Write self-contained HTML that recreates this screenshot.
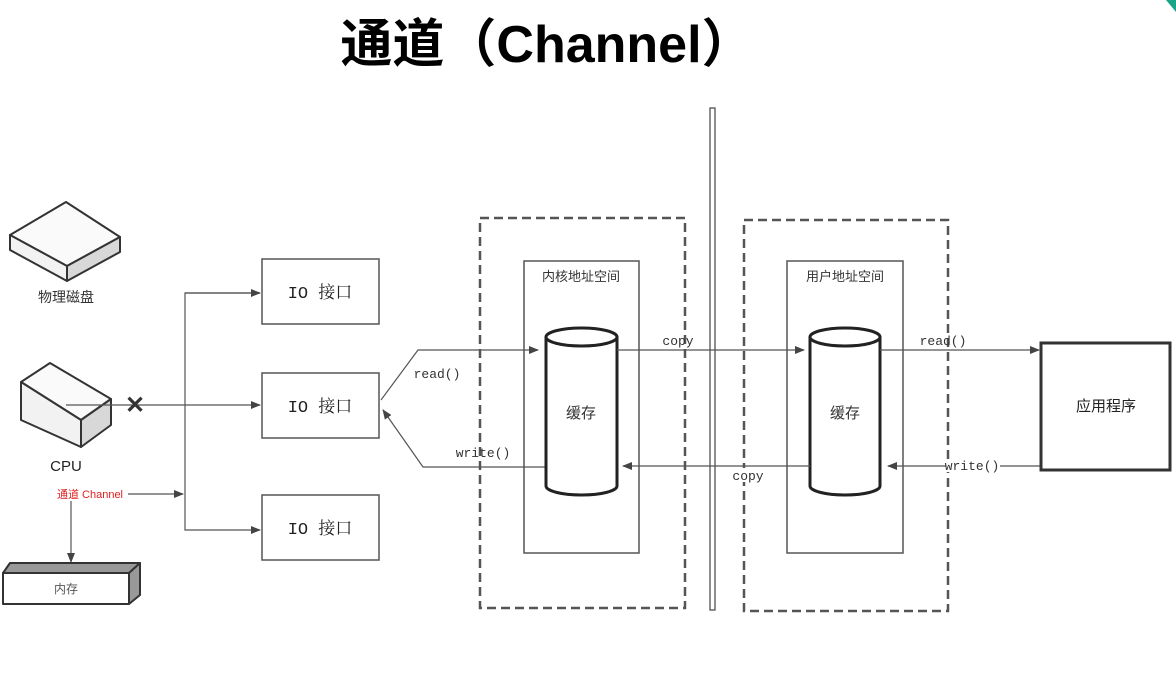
<!DOCTYPE html>
<html><head><meta charset="utf-8"><style>
html,body{margin:0;padding:0;background:#fff;}
svg{display:block;}
text{font-family:"Liberation Sans","Noto Sans CJK SC",sans-serif;}
.m{font-family:"Liberation Mono","Noto Serif CJK SC",monospace;}
</style></head><body>
<svg width="1176" height="687" viewBox="0 0 1176 687" xmlns="http://www.w3.org/2000/svg">
<defs>
<marker id="a" markerWidth="10" markerHeight="8" refX="9" refY="4" orient="auto" markerUnits="userSpaceOnUse">
<path d="M0,0 L10,4 L0,8 z" fill="#444"/></marker>
</defs>
<polygon points="1166,0 1176,0 1176,12" fill="#1aa58a"/>
<text x="547" y="62" font-size="52" font-weight="bold" text-anchor="middle" fill="#000">通道（Channel）</text>

<!-- disk -->
<g stroke="#333" stroke-width="2" stroke-linejoin="round">
<polygon points="10,235 66,202 120,237 67,266" fill="#fafafa"/>
<polygon points="10,235 67,266 67,281 10,250" fill="#f2f2f2"/>
<polygon points="67,266 120,237 120,252 67,281" fill="#d8d8d8"/>
</g>
<text x="66" y="302" font-size="14" text-anchor="middle" fill="#333">物理磁盘</text>

<!-- cpu -->
<g stroke="#333" stroke-width="2" stroke-linejoin="round">
<polygon points="21,382 50,363 111,399 81,420" fill="#fafafa"/>
<polygon points="21,382 81,420 81,447 21,420" fill="#f2f2f2"/>
<polygon points="81,420 111,399 111,425 81,447" fill="#d8d8d8"/>
</g>
<text x="66" y="471" font-size="15" text-anchor="middle" fill="#222">CPU</text>

<g stroke="#555" stroke-width="1.2" fill="none">
<line x1="66" y1="405" x2="260" y2="405" marker-end="url(#a)"/>
<polyline points="260,293 185,293 185,530 260,530" marker-end="url(#a)"/>
<line x1="185" y1="293" x2="260" y2="293" marker-end="url(#a)"/>
<line x1="128" y1="494" x2="183" y2="494" marker-end="url(#a)"/>
<line x1="71" y1="501" x2="71" y2="562" marker-end="url(#a)"/>
</g>
<text x="135" y="413" font-size="24" font-weight="bold" text-anchor="middle" fill="#333">✕</text>
<text x="90" y="498" font-size="11" text-anchor="middle" fill="#e02020">通道 Channel</text>

<!-- memory -->
<g stroke="#333" stroke-width="2" stroke-linejoin="round">
<polygon points="3,573 10,563 140,563 129,573" fill="#999"/>
<polygon points="129,573 140,563 140,595 129,604" fill="#999"/>
<rect x="3" y="573" width="126" height="31" fill="#fff"/>
</g>
<text x="66" y="593" font-size="12" text-anchor="middle" fill="#555">内存</text>

<!-- IO boxes -->
<g stroke="#555" stroke-width="1.5" fill="#fff">
<rect x="262" y="259" width="117" height="65"/>
<rect x="262" y="373" width="117" height="65"/>
<rect x="262" y="495" width="117" height="65"/>
</g>
<g font-size="17" text-anchor="middle" fill="#222" class="m">
<text x="320" y="298" class="m">IO 接口</text>
<text x="320" y="412" class="m">IO 接口</text>
<text x="320" y="534" class="m">IO 接口</text>
</g>

<!-- read/write left -->
<g stroke="#555" stroke-width="1.2" fill="none">
<polyline points="381,400 418,350 538,350" marker-end="url(#a)"/>
<polyline points="546,467 423,467 383,410" marker-end="url(#a)"/>
</g>

<!-- dashed -->
<g stroke="#555" stroke-width="2.5" fill="none" stroke-dasharray="9,5">
<rect x="480" y="218" width="205" height="390"/>
<rect x="744" y="220" width="204" height="391"/>
</g>
<g stroke="#555" stroke-width="1.5" fill="none">
<rect x="524" y="261" width="115" height="292"/>
<rect x="787" y="261" width="116" height="292"/>
</g>
<rect x="710" y="108" width="5" height="502" fill="#fff" stroke="#444" stroke-width="1.2"/>
<text x="581" y="281" font-size="13" text-anchor="middle" fill="#333">内核地址空间</text>
<text x="845" y="281" font-size="13" text-anchor="middle" fill="#333">用户地址空间</text>

<!-- cylinders -->
<g stroke="#222" stroke-width="3" fill="#fff">
<path d="M546,337 L546,486 A35.5,9 0 0 0 617,486 L617,337"/>
<ellipse cx="581.5" cy="337" rx="35.5" ry="9"/>
<path d="M810,337 L810,486 A35,9 0 0 0 880,486 L880,337"/>
<ellipse cx="845" cy="337" rx="35" ry="9"/>
</g>
<text x="581" y="418" font-size="15" text-anchor="middle" fill="#333">缓存</text>
<text x="845" y="418" font-size="15" text-anchor="middle" fill="#333">缓存</text>

<g stroke="#555" stroke-width="1.2" fill="none">
<line x1="617" y1="350" x2="804" y2="350" marker-end="url(#a)"/>
<line x1="810" y1="466" x2="623" y2="466" marker-end="url(#a)"/>
<line x1="880" y1="350" x2="1039" y2="350" marker-end="url(#a)"/>
<line x1="1040" y1="466" x2="888" y2="466" marker-end="url(#a)"/>
</g>
<rect x="1041" y="343" width="129" height="127" fill="#fff" stroke="#333" stroke-width="3"/>
<text x="1106" y="411" font-size="15" text-anchor="middle" fill="#222">应用程序</text>

<g font-size="13" fill="#333" class="m">
<text x="437" y="378" text-anchor="middle" class="m">read()</text>
<text x="483" y="457" text-anchor="middle" class="m">write()</text>
<text x="678" y="345" text-anchor="middle" class="m">copy</text>
<rect x="728" y="468" width="40" height="14" fill="#fff"/>
<text x="748" y="480" text-anchor="middle" class="m">copy</text>
<text x="943" y="345" text-anchor="middle" class="m">read()</text>
<rect x="946" y="460" width="54" height="12" fill="#fff"/>
<text x="972" y="470" text-anchor="middle" class="m">write()</text>
</g>
</svg>
</body></html>
